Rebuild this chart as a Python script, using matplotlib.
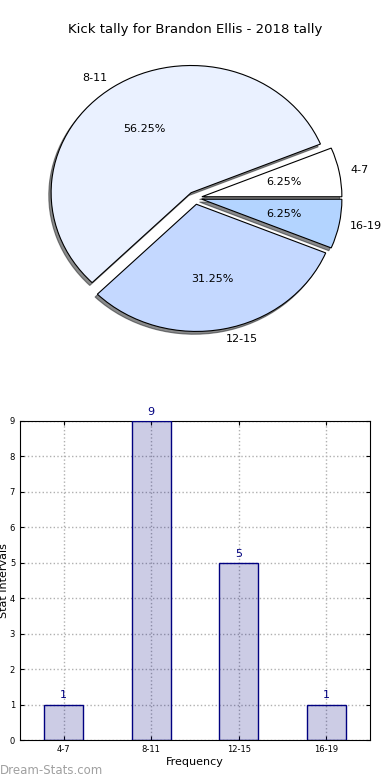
import matplotlib
matplotlib.use("Agg")
import matplotlib.pyplot as plt

# data
labels = ["4-7", "8-11", "12-15", "16-19"]
counts = [1, 9, 5, 1]
pie_colors = ["#ffffff", "#eaf1ff", "#c4d8ff", "#b3d4ff"]
explode = [0.05, 0.05, 0.05, 0.05]
title = "Kick tally for Brandon Ellis - 2018 tally"

fig = plt.figure(figsize=(3.9, 7.8), dpi=100)

# pie
ax1 = fig.add_axes([20/390, 1-357/780, 350/390, 318/780])
ax1.pie(counts, labels=labels, colors=pie_colors, explode=explode,
        autopct="%1.2f%%", startangle=0, labeldistance=1.08,
        shadow={"ox": -0.012, "oy": -0.016, "shade": 0.9},
        wedgeprops={"edgecolor": "black", "linewidth": 0.8},
        textprops={"fontsize": 8})
ax1.set_aspect("auto")
ax1.set_xlim(-1.25, 1.25)
ax1.set_ylim(-1.25, 1.25)
fig.text(0.5, 1-30/780, title, ha="center", va="center", fontsize=9.5)

# bars
ax2 = fig.add_axes([20/390, 1-740/780, 350/390, 319/780])
x = list(range(len(labels)))
ax2.bar(x, counts, width=0.45, color="navy", alpha=0.2, zorder=2)
ax2.bar(x, counts, width=0.45, fill=False, edgecolor="navy", linewidth=1, zorder=3)
for i in range(len(counts)):
    ax2.annotate(str(counts[i]), (x[i], counts[i]), xytext=(0, 3),
                 textcoords="offset points", ha="center", va="bottom",
                 color="navy", fontsize=8)
ax2.set_xlim(-0.5, 3.5)
ax2.set_ylim(0, 9)
ax2.set_xticks(x)
ax2.set_xticklabels(labels)
ax2.set_yticks(range(10))
ax2.tick_params(direction="in", top=True, right=True, labelsize=6, length=3)
ax2.grid(True, color="#b0b0b0", linestyle=":", linewidth=1, zorder=1)
ax2.set_axisbelow(True)
ax2.set_xlabel("Frequency", fontsize=8, labelpad=2)
ax2.set_ylabel("Stat Intervals", fontsize=8, labelpad=2)
ax2.yaxis.set_label_coords(-0.032, 0.5)

fig.text(0.0, 3/780, "Dream-Stats.com", color="#a0a0a0", fontsize=8.5,
         ha="left", va="bottom")

fig.savefig("out.png", dpi=100)
